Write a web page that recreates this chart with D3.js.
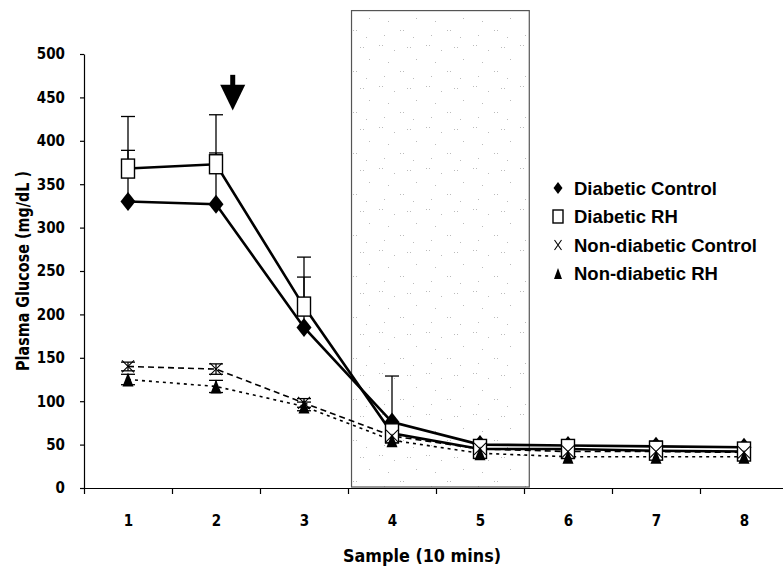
<!DOCTYPE html>
<meta charset="utf-8">
<style>
  body { margin: 0; background: #fff; }
  .tick text { font-family: "Liberation Sans Narrow", "DejaVu Sans Condensed", "DejaVu Sans", sans-serif; font-stretch: condensed; font-weight: bold; font-size: 15px; fill: #000; }
  .axis path, .axis line { stroke: #000; stroke-width: 1.2; }
  .title { font-family: "Liberation Sans Narrow", "DejaVu Sans Condensed", "DejaVu Sans", sans-serif; font-stretch: condensed; font-weight: bold; font-size: 18px; }
  .legend text { font-family: "Liberation Sans", Arial, sans-serif; font-weight: bold; font-size: 18.5px; }
</style>
<body></body>
<script src="https://cdnjs.cloudflare.com/ajax/libs/d3/7.8.5/d3.min.js"></script>
<script>
// samples along x
var samples = [1, 2, 3, 4, 5, 6, 7, 8];
var yTicks = [0, 50, 100, 150, 200, 250, 300, 350, 400, 450, 500];

// mean plasma glucose, mg/dL
var diabeticControl = [330, 327, 185, 76, 50, 49, 48, 47];
var diabeticRH = [368, 373, 209, 63, 45, 45, 43, 42];
var nonDiabeticControl = [140, 137, 98, 60, 45, 42, 42, 41];
var nonDiabeticRH = [125, 117, 94, 55, 40, 36, 36, 36];

// error bar sizes (upper only for diabetic groups)
var diabeticControlErr = [59, 59, 58, 0, 0, 0, 6, 0];
var diabeticRHErr = [60, 57, 57, 66, 0, 0, 0, 0];
var nonDiabeticControlErr = [5, 6, 5, 3, 2, 2, 2, 2];
var nonDiabeticRHErr = [6, 7, 5, 3, 2, 2, 2, 2];

// shaded period (in sample units) and arrow marker
var shadeSpan = [3.54, 5.56];
var shadeTop = 550;
var arrowAt = 2.19;
var arrowValues = [476, 435];

var legendLabels = ["Diabetic Control", "Diabetic RH", "Non-diabetic Control", "Non-diabetic RH"];

var width = 783, height = 568;
var svg = d3.select("body").append("svg")
    .attr("width", width)
    .attr("height", height);

var x = d3.scaleLinear().domain([0.5, 8.5]).range([84, 788]);
var y = d3.scaleLinear().domain([0, 500]).range([488, 54]);

// sparse dotted pattern for the shaded box
var defs = svg.append("defs");
var pat = defs.append("pattern")
    .attr("id", "dots")
    .attr("patternUnits", "userSpaceOnUse")
    .attr("width", 47).attr("height", 41);
[[3, 4], [6, 4], [18, 9], [31, 6], [34, 6], [12, 21], [40, 18], [24, 30], [27, 30], [8, 35], [37, 37]].forEach(function(p) {
    pat.append("rect").attr("x", p[0]).attr("y", p[1])
        .attr("width", 1).attr("height", 1).attr("fill", "#bbb");
});

svg.append("rect")
    .attr("x", x(shadeSpan[0]))
    .attr("y", y(shadeTop))
    .attr("width", x(shadeSpan[1]) - x(shadeSpan[0]))
    .attr("height", y(0) - y(shadeTop) - 1)
    .attr("fill", "url(#dots)")
    .attr("stroke", "#555")
    .attr("stroke-width", 1.2);

// axes
svg.append("g")
    .attr("class", "axis")
    .attr("transform", "translate(84,0)")
    .call(d3.axisLeft(y).tickValues(yTicks).tickSize(4).tickSizeOuter(0).tickPadding(15));

svg.append("g")
    .attr("class", "axis")
    .attr("transform", "translate(0," + y(0) + ")")
    .call(d3.axisBottom(x).tickValues(d3.range(0.5, 9, 1)).tickSize(6).tickSizeOuter(0).tickFormat(""));

var xLabels = svg.append("g")
    .attr("class", "axis")
    .attr("transform", "translate(0," + y(0) + ")")
    .call(d3.axisBottom(x).tickValues(samples).tickSize(0).tickPadding(27).tickFormat(d3.format("d")));
xLabels.select(".domain").remove();

svg.append("text")
    .attr("class", "title")
    .attr("x", 422).attr("y", 562)
    .attr("text-anchor", "middle")
    .attr("textLength", 158)
    .attr("lengthAdjust", "spacingAndGlyphs")
    .text("Sample (10 mins)");

svg.append("text")
    .attr("class", "title")
    .attr("transform", "translate(29,271) rotate(-90)")
    .attr("text-anchor", "middle")
    .attr("textLength", 200)
    .attr("lengthAdjust", "spacingAndGlyphs")
    .text("Plasma Glucose (mg/dL )");

var px = function(d, i) { return x(samples[i]); };
var line = d3.line().x(px).y(function(d) { return y(d); });

function addLine(values, width, dash) {
    svg.append("path")
        .datum(values)
        .attr("fill", "none")
        .attr("stroke", "#000")
        .attr("stroke-width", width)
        .attr("stroke-dasharray", dash)
        .attr("d", line);
}

function addErr(values, errs, both, capW) {
    var g = svg.append("g").attr("stroke", "#000").attr("stroke-width", 1.3);
    values.forEach(function(v, i) {
        if (!errs[i]) return;
        var cx = x(samples[i]);
        var lo = both ? v - errs[i] : v;
        g.append("line").attr("x1", cx).attr("x2", cx).attr("y1", y(lo)).attr("y2", y(v + errs[i]));
        g.append("line").attr("x1", cx - capW).attr("x2", cx + capW).attr("y1", y(v + errs[i])).attr("y2", y(v + errs[i]));
        if (both) g.append("line").attr("x1", cx - capW).attr("x2", cx + capW).attr("y1", y(lo)).attr("y2", y(lo));
    });
}

// markers
function diamond(g, w, h) {
    return g.append("path").attr("d", "M0," + (-h) + "L" + w + ",0L0," + h + "L" + (-w) + ",0Z").attr("fill", "#000");
}
function square(g, w, h) {
    return g.append("rect").attr("x", -w).attr("y", -h).attr("width", 2 * w).attr("height", 2 * h)
        .attr("fill", "#fff").attr("stroke", "#000").attr("stroke-width", 1.4);
}
function cross(g, w, h) {
    return g.append("path").attr("d", "M" + (-w) + "," + (-h) + "L" + w + "," + h + "M" + w + "," + (-h) + "L" + (-w) + "," + h)
        .attr("stroke", "#000").attr("stroke-width", 1.1).attr("fill", "none");
}
function triangle(g, w, h) {
    return g.append("path").attr("d", "M0," + (-h) + "L" + w + "," + h + "L" + (-w) + "," + h + "Z").attr("fill", "#000");
}

function addMarkers(values, fn, w, h) {
    values.forEach(function(v, i) {
        var g = svg.append("g").attr("transform", "translate(" + x(samples[i]) + "," + y(v) + ")");
        fn(g, w, h);
    });
}

addErr(nonDiabeticControl, nonDiabeticControlErr, true, 7);
addErr(nonDiabeticRH, nonDiabeticRHErr, true, 7);
addLine(nonDiabeticControl, 1.6, "6,4");
addLine(nonDiabeticRH, 1.6, "3,4");
addErr(diabeticControl, diabeticControlErr, false, 7);
addErr(diabeticRH, diabeticRHErr, false, 7);
addLine(diabeticControl, 2.6, null);
addLine(diabeticRH, 2.6, null);

addMarkers(diabeticControl, diamond, 7.5, 9.5);
addMarkers(diabeticRH, square, 6.5, 9.5);
addMarkers(nonDiabeticRH, triangle, 5.5, 7);
addMarkers(nonDiabeticControl, cross, 6, 6);

// arrow
var ax = x(arrowAt);
svg.append("line").attr("x1", ax).attr("x2", ax)
    .attr("y1", y(arrowValues[0])).attr("y2", y(arrowValues[0]) + 14)
    .attr("stroke", "#000").attr("stroke-width", 5);
svg.append("path")
    .attr("d", "M" + (ax - 12.5) + "," + (y(arrowValues[0]) + 10) + "L" + (ax + 12.5) + "," + (y(arrowValues[0]) + 10) + "L" + ax + "," + y(arrowValues[1]) + "Z")
    .attr("fill", "#000");

// legend
var legend = svg.append("g").attr("class", "legend");
var legendMarkers = [[diamond, 4.5, 6], [square, 5, 6.5], [cross, 3.5, 5], [triangle, 4, 5.5]];
legendLabels.forEach(function(lab, i) {
    var g = legend.append("g").attr("transform", "translate(558," + (188 + i * 28.5) + ")");
    legendMarkers[i][0](g, legendMarkers[i][1], legendMarkers[i][2]);
    g.append("text").attr("x", 16).attr("y", 6.5).text(lab);
});
</script>
